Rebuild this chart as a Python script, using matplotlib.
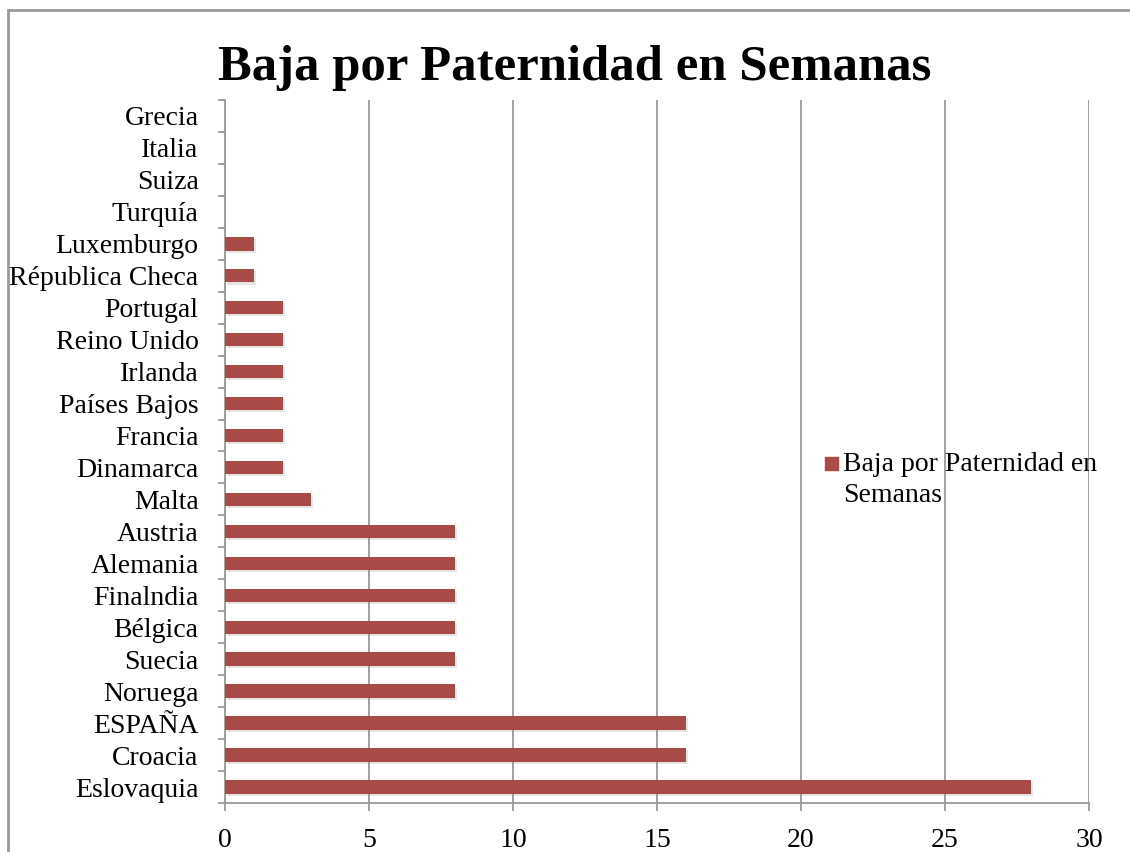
import numpy as np
import matplotlib
matplotlib.use("Agg")
import matplotlib.pyplot as plt
import matplotlib.patheffects as pe
from matplotlib.patches import Rectangle

# data, bottom to top as drawn
paises = ["Eslovaquia", "Croacia", "ESPAÑA", "Noruega", "Suecia", "Bélgica",
          "Finalndia", "Alemania", "Austria", "Malta", "Dinamarca", "Francia",
          "Países Bajos", "Irlanda", "Reino Unido", "Portugal", "Républica Checa",
          "Luxemburgo", "Turquía", "Suiza", "Italia", "Grecia"]
semanas = [28, 16, 16, 8, 8, 8, 8, 8, 8, 3, 2, 2, 2, 2, 2, 2, 1, 1, 0, 0, 0, 0]
xticks = [0, 5, 10, 15, 20, 25, 30]
serie = "Baja por Paternidad en Semanas"

bar_color = "#A84B46"
grid_color = "#9a9a9a"
fs = 20

plt.rcParams['font.family'] = ['Liberation Serif', 'DejaVu Serif']

W, H = 1130, 852
fig = plt.figure(figsize=(W / 100, H / 100), dpi=100)
ax = fig.add_axes([225 / W, 1 - 803 / H, (1089 - 225) / W, (803 - 100) / H])

y = np.arange(len(paises))
ax.barh(y, semanas, height=0.42, color=bar_color, zorder=3,
        path_effects=[pe.SimplePatchShadow(offset=(1.5, -1.5), shadow_rgbFace="#999999", alpha=0.25),
                      pe.Normal()])

ax.set_xlim(0, 30)
ax.set_ylim(-0.5, len(paises) - 0.5)
ax.set_xticks(xticks)
ax.set_xticklabels([str(v) for v in xticks])
ax.set_yticks(y)
ax.set_yticklabels(paises)
ax.set_yticks(np.arange(len(paises) + 1) - 0.5, minor=True)

ax.grid(axis="x", color=grid_color, linewidth=1.3, zorder=0)
for s in ["top", "right"]:
    ax.spines[s].set_visible(False)
for s in ["left", "bottom"]:
    ax.spines[s].set_color(grid_color)
    ax.spines[s].set_linewidth(1.3)

ax.tick_params(axis="y", which="major", length=0, pad=19, labelsize=fs)
ax.tick_params(axis="y", which="minor", length=5, width=1.3, color=grid_color)
ax.tick_params(axis="x", length=6, width=1.3, color=grid_color, pad=12, labelsize=fs)

fig.text(575 / W, 1 - 68 / H, serie, ha="center", va="center",
         fontsize=36.5, fontweight="bold")

# legend
fig.patches.append(Rectangle((825 / W, 1 - 470 / H), 13 / W, 13 / H,
                             transform=fig.transFigure, color=bar_color))
fig.text(843 / W, 1 - 452 / H, "Baja por Paternidad en\nSemanas", ha="left",
         va="top", fontsize=fs, linespacing=1.3)

# chart border
fig.patches.append(Rectangle((8 / W, -0.05), 1.1, 1.05 - 10 / H, transform=fig.transFigure,
                             fill=False, edgecolor="#999999", linewidth=2))

fig.savefig("out.png", dpi=100)
